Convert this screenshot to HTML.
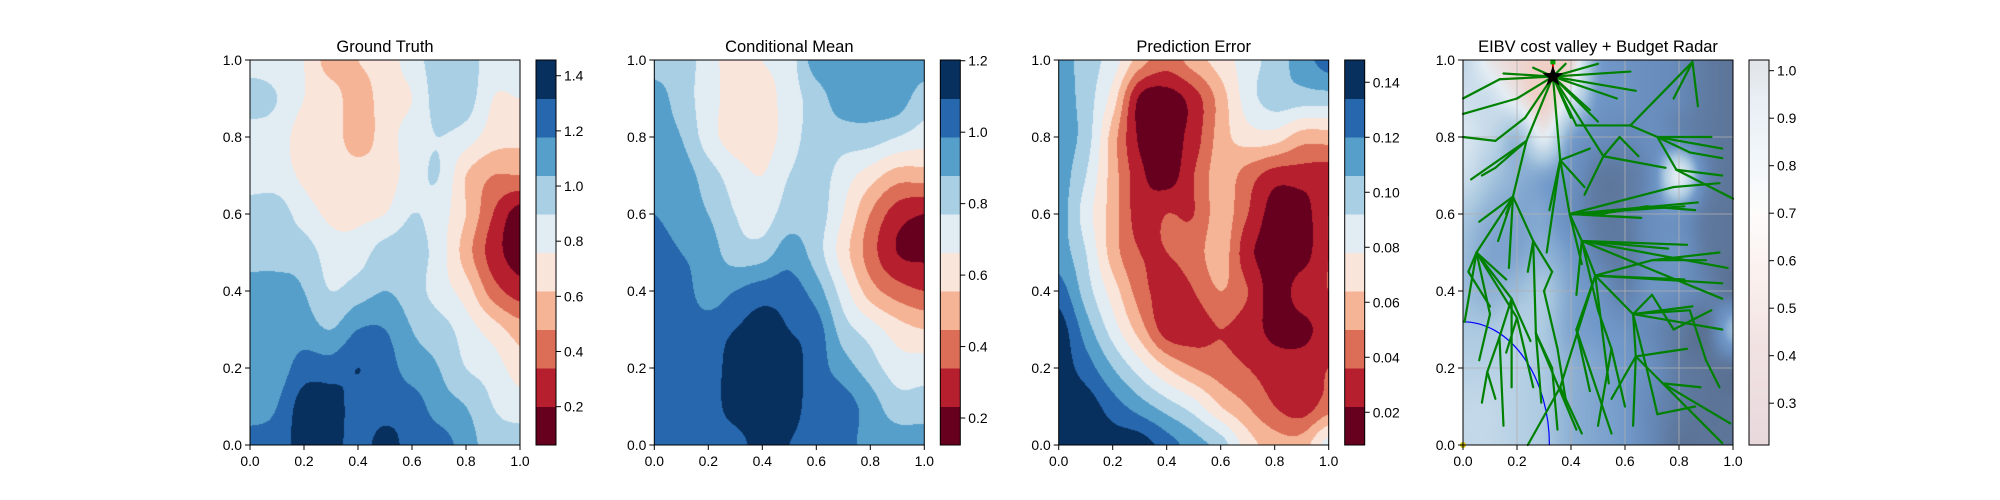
<!DOCTYPE html>
<html><head><meta charset="utf-8">
<style>
html,body{margin:0;padding:0;background:#fff;}
#wrap{position:relative;width:2000px;height:500px;overflow:hidden;font-family:"Liberation Sans","DejaVu Sans",sans-serif;}
canvas{position:absolute;}
svg{position:absolute;left:0;top:0;}
</style></head>
<body>
<div id="wrap">
<canvas id="c0" width="270" height="385" style="left:250px;top:60px"></canvas>
<canvas id="c1" width="270" height="385" style="left:654px;top:60px"></canvas>
<canvas id="c2" width="270" height="385" style="left:1059px;top:60px"></canvas>
<canvas id="c3" width="270" height="385" style="left:1463px;top:60px"></canvas>
<svg id="svg" width="2000" height="500"></svg>
</div>
<script>
// Band-index grids (0 = darkest red ... 9 = darkest blue), rows y=1.0 -> 0.0, columns x=0 -> 1
const truthGrid = [
[5,5,4.5,3,3.5,4,5,6,6,5,5],
[6,5.5,4.5,4,3,4,4.5,6,6,4.5,4.5],
[5,5,4,4,3,4,5,5.5,5,4,3.8],
[5,5,4.3,4,4,4,5,5.5,3.5,2.5,2.5],
[6,6,5,4.3,4.3,4.5,5.5,5,3.5,1.5,0],
[6,6,6,5,5,6,6,5,3,1,0],
[7,7,6.5,5.5,6,6.5,6,5,4,2,1],
[7,7,7,6.5,7.5,7.5,6.5,6,5,4,3],
[7,7,8,8,8.5,8,7,6.5,5.5,5,4],
[7,7.5,9,9,8,8,8,7,6.5,5.5,5],
[8,8,9,9,8,9,8,8,7,6,6]];
const meanGrid = [
[6,6,5,4,4.5,5,7,7,7,7,7],
[7,6,5,4,4,5,6,7,7,7,6],
[7,6.5,5,4,4,5,6,6,6,5.5,5],
[7,7,6,5,4.5,5.5,6,5,4,3,3],
[7.5,7,6.5,5.5,5,6,6,4.5,2.5,1,0.5],
[8,7.5,7,6,6,7,6,4,2,0.5,0.3],
[8,8,7,7.5,8,8,7,5,3,2,1.5],
[8,8,8,8.5,9,8.5,8,6,5,4,3.5],
[8,8,8,9,9.5,9,8,7,6,5,5],
[8,8,8,9,9.5,9,8,8,7,6,6],
[8,8,8,8,9,8.5,8,8,7,7,7]];
const errorGrid = [
[7,6,5,3,2,3,4,5,6,7,8],
[7,6,4,0.3,0,1,3,5,6,6,6],
[7,6,3,0.3,0,1,3,4,4,3,3],
[7,5.5,3,0.8,0,1.5,3,2,1,1,1],
[7,5,3,1,1.5,1.5,3,1.5,0,0,1.5],
[7,5.5,3,1.5,1.5,2,3,0.8,0,0,1.5],
[8,6,4,2,1,1.5,2.5,1.5,0,1,1.5],
[9,7,5,3,1,1,1.5,1,0.2,0.2,1],
[9,8,6.5,5,3.5,2.5,2,1.5,1,1,1.5],
[9,9,8,7,6,5,3.5,2.5,1.5,1,2],
[9,9,9,9,8,7,6,4,3,3,5]];
const costGrid = [
[.35,.15,.05,0,.05,.6,.7,.75,.8,.9,.95],
[.3,.3,.15,0,.25,.65,.7,.75,.8,.9,.95],
[.25,.35,.5,.2,.6,.75,.8,.75,.8,.9,.95],
[.3,.45,.55,.6,.7,.9,.9,.75,.2,.8,.95],
[.45,.55,.6,.6,.75,.9,.9,.75,.7,.9,.95],
[.5,.6,.6,.55,.65,.85,.9,.75,.7,.9,.95],
[.5,.55,.5,.45,.6,.7,.85,.7,.75,.85,.95],
[.45,.45,.4,.45,.6,.65,.7,.8,.9,.95,.5],
[.4,.4,.4,.45,.55,.6,.65,.75,.9,.95,.95],
[.35,.35,.4,.45,.55,.6,.65,.8,.9,.95,.95],
[.35,.35,.4,.45,.55,.6,.65,.8,.95,.95,.95]];
// Tree (nodes with parent index)
const treeX = [.333,.136,0,.2,0,.23,.12,0,.15,.26,.38,.5,.62,.64,.57,.5,.52,.42,.62,.85,.72,.96,.84,.96,.79,.96,1,.235,.12,.03,.07,.185,.05,.006,.16,.06,.13,.17,.26,.27,.24,.33,.02,.16,.2,.1,.18,.135,.09,.07,.12,.15,.18,.25,.36,.32,.31,.395,.44,.49,.63,.64,.74,.99,.96,.88,.83,.63,.55,.7,.84,.85,.96,.82,.96,.76,.83,.96,.51,.66,.82,.87,.78,.98,.42,.44,.36,.24,.44,.54,.42,.47,.55,.33,.35,.29,.42,.45,.47,.45,.75,
 .16,.26,.06,.1,.45,.5,.55,.6,.5,.68,.72,.86,.9,.95,.78,.92,.7,.9,.95,.68,.86,.58,.65,.95,.92,.87,.78,.3,.35,.38,.4,.47];
const treeY = [.957,.95,.9,.9,.86,.85,.79,.8,.965,.98,.99,.99,.97,.92,.9,.84,.75,.83,.83,.995,.8,.77,.76,.745,.715,.7,.64,.79,.72,.69,.7,.645,.5,.32,.6,.58,.53,.46,.53,.29,.45,.45,.45,.43,.33,.34,.38,.28,.19,.11,.12,.05,.15,.27,.74,.61,.5,.6,.53,.44,.34,.23,.16,.056,.005,.15,.25,.05,.12,.39,.35,.36,.3,.43,.42,.51,.52,.38,.6,.59,.62,.63,.67,.46,.39,.47,.15,0,.03,.16,.3,.14,.03,.2,.04,.11,.04,.67,.77,.65,.72,
 .24,.15,.22,.36,.6,.35,.25,.1,.05,.2,.08,.1,.22,.15,.3,.35,.48,.48,.5,.62,.61,.8,.75,.68,.8,.88,.9,.4,.25,.12,.85,.87];
const treeParent = [-1,0,1,0,3,0,5,6,0,0,0,0,0,0,0,0,0,0,17,18,18,20,20,22,20,24,24,0,27,27,28,27,31,32,31,31,31,31,31,38,38,38,32,32,32,32,32,46,47,48,48,47,46,46,0,54,54,54,57,58,59,60,61,62,62,62,61,61,61,60,60,60,60,59,59,58,58,58,57,57,57,57,57,58,58,57,59,86,86,59,59,90,90,39,93,39,39,54,54,16,16,
 44,44,45,42,57,58,106,107,107,60,110,111,70,113,69,115,59,117,117,78,120,16,122,82,20,19,19,41,128,129,0,0];
const root = {x:.333,y:.957};
const panelTitles = ["Ground Truth","Conditional Mean","Prediction Error","EIBV cost valley + Budget Radar"];
const axisTicks = [0,0.2,0.4,0.6,0.8,1.0];
const axisTickLabels = ["0.0","0.2","0.4","0.6","0.8","1.0"];
const cbTicks0 = [0.2,0.4,0.6,0.8,1.0,1.2,1.4];
const cbTicks1 = [0.2,0.4,0.6,0.8,1.0,1.2];
const cbTicks2 = [0.02,0.04,0.06,0.08,0.10,0.12,0.14];
const cbTicks3 = [0.3,0.4,0.5,0.6,0.7,0.8,0.9,1.0];
const cbRange = [[0.061,1.457],[0.1245,1.202],[0.0081,0.1481],[0.212,1.0225]];
const budgetRadius = 0.32;

const bandColors = ['#67001f','#b51f2e','#dc6e57','#f5b496','#fae5da','#e1ecf3','#a8cfe4','#569fca','#2767ad','#07305f'];
const L = [250,654.3,1058.7,1463], T=60, W=270, H=385;
const NS='http://www.w3.org/2000/svg';
const svg=document.getElementById('svg');
function el(tag,attrs,parent){const e=document.createElementNS(NS,tag);for(const k in attrs)e.setAttribute(k,attrs[k]);(parent||svg).appendChild(e);return e;}
function hex(h){return [parseInt(h.substr(1,2),16),parseInt(h.substr(3,2),16),parseInt(h.substr(5,2),16)];}
function cr(p0,p1,p2,p3,t){return 0.5*((2*p1)+(-p0+p2)*t+(2*p0-5*p1+4*p2-p3)*t*t+(-p0+3*p1-3*p2+p3)*t*t*t);}
function gv(g,j,i){j=Math.max(0,Math.min(10,j));i=Math.max(0,Math.min(10,i));return g[j][i];}
function sample(g,fx,fy){
  const cx=fx*10, cy=(1-fy)*10;
  const i=Math.min(9,Math.floor(cx)), j=Math.min(9,Math.floor(cy));
  const tx=cx-i, ty=cy-j;
  const rows=[];
  for(let m=-1;m<=2;m++){rows.push(cr(gv(g,j+m,i-1),gv(g,j+m,i),gv(g,j+m,i+1),gv(g,j+m,i+2),tx));}
  return cr(rows[0],rows[1],rows[2],rows[3],ty);
}
const bandRGB=bandColors.map(hex);
function drawBands(id,g){
  const ctx=document.getElementById(id).getContext('2d');
  const img=ctx.createImageData(W,H);
  for(let py=0;py<H;py++)for(let px=0;px<W;px++){
    const v=sample(g,(px+0.5)/W,1-(py+0.5)/H);
    const b=Math.max(0,Math.min(9,Math.round(v)));
    const c=bandRGB[b],k=(py*W+px)*4;
    img.data[k]=c[0];img.data[k+1]=c[1];img.data[k+2]=c[2];img.data[k+3]=255;
  }
  ctx.putImageData(img,0,0);
}
drawBands('c0',truthGrid);drawBands('c1',meanGrid);drawBands('c2',errorGrid);
const costStops=[[0,'#f0cfc6'],[0.2,'#e4edf4'],[0.45,'#abc9e0'],[0.65,'#7199c9'],[0.8,'#6689b8'],[1,'#596e8e']].map(s=>[s[0],hex(s[1])]);
function costColor(v){for(let i=1;i<costStops.length;i++){if(v<=costStops[i][0]){const a=costStops[i-1],b=costStops[i],t=(v-a[0])/(b[0]-a[0]);return a[1].map((x,k)=>x+(b[1][k]-x)*t);}}return costStops[costStops.length-1][1];}
(function(){const ctx=document.getElementById('c3').getContext('2d');const img=ctx.createImageData(W,H);
for(let py=0;py<H;py++)for(let px=0;px<W;px++){const v=Math.max(0,Math.min(1,sample(costGrid,(px+0.5)/W,1-(py+0.5)/H)));const c=costColor(v),k=(py*W+px)*4;img.data[k]=c[0];img.data[k+1]=c[1];img.data[k+2]=c[2];img.data[k+3]=255;}
ctx.putImageData(img,0,0);})();

for(let p=0;p<4;p++){
  const x0=L[p];
  const sx=v=>x0+v*W, sy=v=>T+H-v*H;
  const g=el('g',{});
  
  
  if(p===3){
    const gg=el('g',{},g);
    
    
    axisTicks.forEach(t=>{
      el('line',{x1:sx(t),x2:sx(t),y1:T,y2:T+H,stroke:'#b0b0b0','stroke-width':0.8},gg);
      el('line',{x1:x0,x2:x0+W,y1:sy(t),y2:sy(t),stroke:'#b0b0b0','stroke-width':0.8},gg);
    });
    const r=budgetRadius;
    const arc=el('path',{d:`M${sx(0)},${sy(r)} A${r*W},${r*H} 0 0 1 ${sx(r)},${sy(0)}`,fill:'none',stroke:'#0000ff','stroke-width':1.2},g);
    
    
    const tg=el('g',{stroke:'#008000','stroke-width':2.2,'stroke-linecap':'round'},g);
    
    
    for(let i=0;i<treeX.length;i++){
      const pa=treeParent[i]; if(pa<0)continue;
      const ln=el('line',{x1:sx(treeX[pa]),y1:sy(treeY[pa]),x2:sx(treeX[i]),y2:sy(treeY[i])},tg);
      
      
    }
    const rl=el('line',{x1:sx(root.x),y1:sy(root.y),x2:sx(root.x),y2:sy(0.995),stroke:'#ff0000','stroke-width':2},g);
    
    
    const sq=el('rect',{x:sx(root.x)-2.5,y:sy(0.995)-2.5,width:5,height:5,fill:'#00a000'},g);
    
    
    const cx=sx(root.x),cy=sy(root.y),R=11,r2=4.4;let pts=[];
    for(let k=0;k<10;k++){const a=-Math.PI/2+k*Math.PI/5,rr=k%2?r2:R;pts.push((cx+rr*Math.cos(a)).toFixed(1)+','+(cy+rr*Math.sin(a)).toFixed(1));}
    const st=el('polygon',{points:pts.join(' '),fill:'#000'},g);
    
    
    const ym=el('circle',{cx:sx(0),cy:sy(0),r:3,fill:'#d4c000'},g);
    
    
  }
  const fr=el('rect',{x:x0,y:T,width:W,height:H,fill:'none',stroke:'#000','stroke-width':1},g);
  
  
  const tt=el('text',{x:x0+W/2,y:52,'text-anchor':'middle','font-size':16.5,fill:'#000'},g);
  tt.textContent=panelTitles[p];
  
  
  axisTicks.forEach((t,i)=>{
    el('line',{x1:sx(t),x2:sx(t),y1:T+H,y2:T+H+5,stroke:'#000','stroke-width':1},g);
    const xl=el('text',{x:sx(t),y:T+H+21,'text-anchor':'middle','font-size':13.9},g);
    xl.textContent=axisTickLabels[i];
    
    
    el('line',{x1:x0-5,x2:x0,y1:sy(t),y2:sy(t),stroke:'#000','stroke-width':1},g);
    const yl=el('text',{x:x0-8,y:sy(t)+5,'text-anchor':'end','font-size':13.9},g);
    yl.textContent=axisTickLabels[i];
    
    
  });
  const cbx=x0+286,cbw=20;
  const cb=el('g',{},g);
  
  
  const [lo,hi]=cbRange[p];
  const cy2=v=>T+H-(v-lo)/(hi-lo)*H;
  if(p<3){
    for(let b=0;b<10;b++){
      const r=el('rect',{x:cbx,y:T+H-(b+1)*H/10,width:cbw,height:H/10+0.5,fill:bandColors[b]},cb);
      
      
    }
  } else {
    const defs=el('defs',{},cb);
    const lg=el('linearGradient',{id:'cbg',x1:0,y1:1,x2:0,y2:0},defs);
    [[0,'#e8d8dc'],[0.25,'#f1e2e2'],[0.45,'#fbf1ef'],[0.6,'#fdfcfb'],[0.75,'#f1f6fa'],[0.9,'#e8eef4'],[1,'#e1e4e8']].forEach(s=>el('stop',{offset:s[0],'stop-color':s[1]},lg));
    const r=el('rect',{x:cbx,y:T,width:cbw,height:H,fill:'url(#cbg)'},cb);
    
    
  }
  el('rect',{x:cbx,y:T,width:cbw,height:H,fill:'none',stroke:'#000','stroke-width':1},cb);
  const ticks=[cbTicks0,cbTicks1,cbTicks2,cbTicks3][p];
  const dec=p===2?2:1;
  ticks.forEach(t=>{
    const y=cy2(t);
    el('line',{x1:cbx+cbw,x2:cbx+cbw+5,y1:y,y2:y,stroke:'#000','stroke-width':1},cb);
    const l=el('text',{x:cbx+cbw+8,y:y+5,'font-size':13.9},cb);
    l.textContent=t.toFixed(dec);
    
    
  });
}
</script>
</body></html>
